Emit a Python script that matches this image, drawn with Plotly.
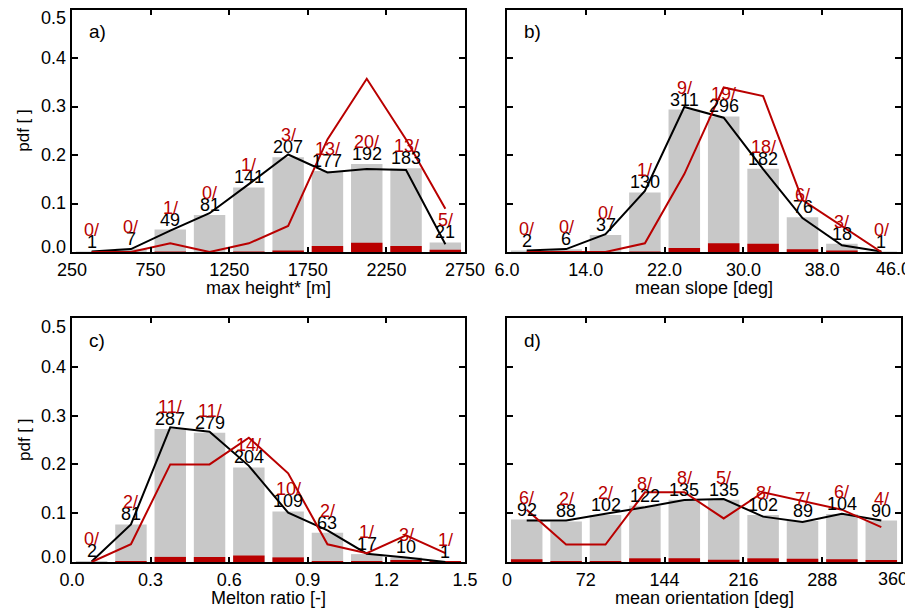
import plotly.graph_objects as go

# ---------------- data ----------------
# a) max height
a_centers = [375, 625, 875, 1125, 1375, 1625, 1875, 2125, 2375, 2625]
a_counts = [1, 7, 49, 81, 141, 207, 177, 192, 183, 21]
a_red = [0, 0, 1, 0, 1, 3, 13, 20, 13, 5]
a_black = [0.001, 0.006, 0.044, 0.080, 0.140, 0.201, 0.164, 0.171, 0.169, 0.016]
a_ticks = [250, 750, 1250, 1750, 2250, 2750]

# b) mean slope
b_centers = [8, 12, 16, 20, 24, 28, 32, 36, 40, 44]
b_counts = [2, 6, 37, 130, 311, 296, 182, 76, 18, 1]
b_red = [0, 0, 0, 1, 9, 19, 18, 6, 3, 0]
b_black = [0.003, 0.006, 0.037, 0.126, 0.299, 0.277, 0.171, 0.070, 0.014, 0.001]
b_ticks = [6, 14, 22, 30, 38, 46]

# c) Melton ratio
c_centers = [0.075, 0.225, 0.375, 0.525, 0.675, 0.825, 0.975, 1.125, 1.275, 1.425]
c_counts = [2, 81, 287, 279, 204, 109, 63, 17, 10, 1]
c_red = [0, 2, 11, 11, 14, 10, 2, 1, 3, 1]
c_black = [0.001, 0.077, 0.276, 0.267, 0.197, 0.101, 0.065, 0.017, 0.009, 0.000]
c_ticks = [0.0, 0.3, 0.6, 0.9, 1.2, 1.5]

# d) mean orientation
d_centers = [18, 54, 90, 126, 162, 198, 234, 270, 306, 342]
d_counts = [92, 88, 102, 122, 135, 135, 102, 89, 104, 90]
d_red = [6, 2, 2, 8, 8, 5, 8, 7, 6, 4]
d_black = [0.085, 0.085, 0.099, 0.112, 0.127, 0.129, 0.093, 0.082, 0.099, 0.085]
d_ticks = [0, 72, 144, 216, 288, 360]

y_ticks = [0.0, 0.1, 0.2, 0.3, 0.4, 0.5]

# ---------------- style ----------------
W, H = 913, 610
OFF = 8  # page offset of the figure inside the browser page
FONT = "Liberation Sans, Arial, Helvetica, sans-serif"
GRAY = "rgb(200,200,200)"
RED = "rgb(185,0,0)"
FS = 18


def px_x(p):
    return (p - OFF) / W


def px_y(p):
    return 1 - (p - OFF) / H


panels = [
    dict(c=a_centers, n=a_counts, r=a_red, k=a_black, ticks=a_ticks, fmt="{:d}",
         bw=250, rng=[250, 2750], title="max height* [m]", letter="a)",
         px=(72, 465), py=(9.5, 252), ylab=True),
    dict(c=b_centers, n=b_counts, r=b_red, k=b_black, ticks=b_ticks, fmt="{:.1f}",
         bw=4, rng=[6, 46], title="mean slope [deg]", letter="b)",
         px=(507, 901), py=(9.5, 252), ylab=False),
    dict(c=c_centers, n=c_counts, r=c_red, k=c_black, ticks=c_ticks, fmt="{:.1f}",
         bw=0.15, rng=[0, 1.5], title="Melton ratio [-]", letter="c)",
         px=(72, 465), py=(318, 562), ylab=True),
    dict(c=d_centers, n=d_counts, r=d_red, k=d_black, ticks=d_ticks, fmt="{:d}",
         bw=36, rng=[0, 360], title="mean orientation [deg]", letter="d)",
         px=(507, 901), py=(318, 562), ylab=False),
]

fig = go.Figure()
annotations = []
layout = {}

for i, p in enumerate(panels, start=1):
    sfx = "" if i == 1 else str(i)
    xa, ya = "x" + sfx, "y" + sfx
    tot = sum(p["n"])
    rtot = sum(p["r"])
    gray_h = [v / tot for v in p["n"]]
    red_h = [v / tot for v in p["r"]]
    red_pdf = [v / rtot for v in p["r"]]
    bw = 0.8 * p["bw"]

    fig.add_trace(go.Bar(x=p["c"], y=gray_h, width=bw, marker=dict(color=GRAY, line=dict(width=0)),
                         xaxis=xa, yaxis=ya, showlegend=False, hoverinfo="skip"))
    fig.add_trace(go.Bar(x=p["c"], y=red_h, width=bw, marker=dict(color=RED, line=dict(width=0)),
                         xaxis=xa, yaxis=ya, showlegend=False, hoverinfo="skip"))
    fig.add_trace(go.Scatter(x=p["c"], y=p["k"], mode="lines", line=dict(color="black", width=2),
                             xaxis=xa, yaxis=ya, showlegend=False, hoverinfo="skip"))
    fig.add_trace(go.Scatter(x=p["c"], y=red_pdf, mode="lines", line=dict(color=RED, width=2),
                             xaxis=xa, yaxis=ya, showlegend=False, hoverinfo="skip"))

    x0, x1 = p["px"]
    y0, y1 = p["py"]
    common = dict(showline=True, linecolor="black", linewidth=2, mirror="ticks",
                  ticks="inside", tickcolor="black", tickwidth=2, showgrid=False,
                  zeroline=False, automargin=False, ticklabeloverflow="allow",
                  tickfont=dict(family=FONT, size=FS, color="black"))
    ticktext = [p["fmt"].format(t) for t in p["ticks"]]
    if not p["ylab"]:
        # last label of the right-hand panels is drawn nudged inside (see below)
        ticktext[-1] = ""
    layout["xaxis" + sfx] = dict(domain=[px_x(x0), px_x(x1)], anchor=ya, range=p["rng"],
                                 tickvals=p["ticks"], ticktext=ticktext, ticklen=5, **common)
    layout["yaxis" + sfx] = dict(domain=[px_y(y1), px_y(y0)], anchor=xa, range=[0, 0.5],
                                 tickvals=y_ticks, ticklen=6, showticklabels=False, **common)

    if not p["ylab"]:
        annotations.append(dict(x=p["ticks"][-1], y=px_y(y1 + 16.5), xref=xa, yref="paper",
                                text=p["fmt"].format(p["ticks"][-1]), showarrow=False,
                                xanchor="center", yanchor="middle", xshift=-8,
                                font=dict(family=FONT, size=FS, color="black")))

    # y tick labels (left panels), end labels nudged inside like the original
    if p["ylab"]:
        for yv in y_ticks:
            shift = 5 if yv == y_ticks[0] else (-9 if yv == y_ticks[-1] else 0)
            annotations.append(dict(x=px_x(x0 - 5), y=yv, xref="paper", yref=ya,
                                    text=f"{yv:.1f}", showarrow=False, xanchor="right",
                                    yanchor="middle", yshift=shift, borderpad=0,
                                    font=dict(family=FONT, size=FS, color="black")))

    for cx, gh, n, r in zip(p["c"], gray_h, p["n"], p["r"]):
        annotations.append(dict(x=cx, y=gh, xref=xa, yref=ya, text=str(n), showarrow=False,
                                xanchor="center", yanchor="bottom", yshift=-2,
                                font=dict(family=FONT, size=FS, color="black")))
        annotations.append(dict(x=cx, y=gh, xref=xa, yref=ya, text=f"{r}/", showarrow=False,
                                xanchor="center", yanchor="bottom", yshift=10,
                                font=dict(family=FONT, size=FS, color=RED)))

    # panel letter
    annotations.append(dict(x=px_x(x0 + 15), y=px_y(y0 + 22), xref="paper", yref="paper",
                            text=p["letter"], showarrow=False, xanchor="left", yanchor="middle",
                            font=dict(family=FONT, size=FS + 1, color="black")))
    # x title
    annotations.append(dict(x=px_x((x0 + x1) / 2), y=px_y(y1 + 36), xref="paper", yref="paper",
                            text=p["title"], showarrow=False, xanchor="center", yanchor="middle",
                            font=dict(family=FONT, size=FS, color="black")))
    # y title
    if p["ylab"]:
        annotations.append(dict(x=px_x(24), y=px_y((y0 + y1) / 2), xref="paper", yref="paper",
                                text="pdf [ ]", showarrow=False, textangle=-90,
                                xanchor="center", yanchor="middle",
                                font=dict(family=FONT, size=FS - 1, color="black")))

fig.update_layout(width=W, height=H, margin=dict(l=0, r=0, t=0, b=0, pad=0),
                  paper_bgcolor="white", plot_bgcolor="white", barmode="overlay",
                  annotations=annotations, **layout)

fig.write_html("out.html")
